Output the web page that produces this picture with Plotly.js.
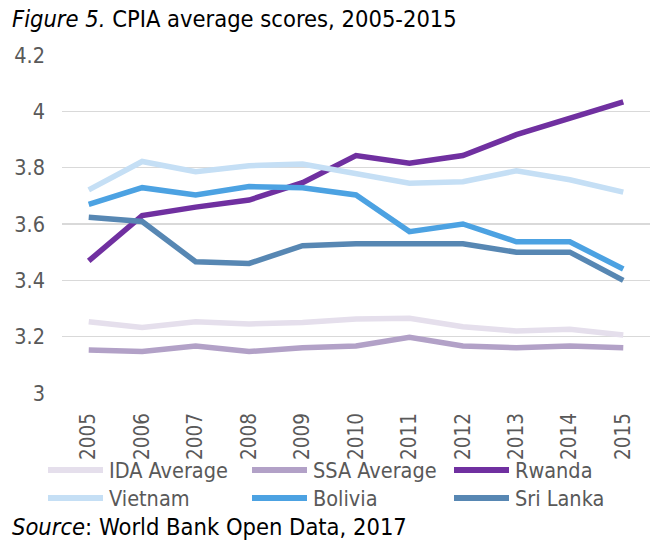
<!DOCTYPE html>
<html>
<head>
<meta charset="utf-8">
<script src="https://cdn.plot.ly/plotly-3.0.1.min.js"></script>
<style>html,body{margin:0;padding:0;background:#fff;}#chart{width:650px;height:544px;}</style>
</head>
<body>
<div id="chart"></div>
<script>
const years = ["2005","2006","2007","2008","2009","2010","2011","2012","2013","2014","2015"];
const seriesNames = ["IDA Average","SSA Average","Rwanda","Vietnam","Bolivia","Sri Lanka"];
const seriesColors = ["#E5DFEC","#B2A1C7","#7030A0","#C5DFF5","#4CA2E2","#5787B3"];
const idaAverage = [3.253,3.233,3.253,3.245,3.250,3.263,3.265,3.235,3.220,3.226,3.206];
const ssaAverage = [3.153,3.147,3.167,3.147,3.161,3.167,3.198,3.167,3.161,3.167,3.161];
const rwanda     = [3.469,3.630,3.660,3.685,3.747,3.843,3.816,3.843,3.917,3.976,4.034];
const vietnam    = [3.721,3.822,3.786,3.807,3.813,3.780,3.745,3.750,3.789,3.757,3.713];
const bolivia    = [3.670,3.729,3.703,3.733,3.729,3.703,3.573,3.600,3.537,3.537,3.440];
const sriLanka   = [3.624,3.609,3.466,3.460,3.523,3.530,3.530,3.530,3.500,3.500,3.400];
const seriesValues = [idaAverage, ssaAverage, rwanda, vietnam, bolivia, sriLanka];
const yTicks = [3, 3.2, 3.4, 3.6, 3.8, 4, 4.2];

const FONT = "'DejaVu Sans Condensed', 'DejaVu Sans', sans-serif";
const W = 650, H = 544;
const m = {l: 62, r: 0, t: 55, b: 151};
const pw = W - m.l - m.r, ph = H - m.t - m.b;
const px = x => (x - m.l) / pw;
const py = y => (H - m.b - y) / ph;

const traces = seriesNames.map((name, i) => ({
  x: years, y: seriesValues[i], name: name, type: 'scatter', mode: 'lines',
  line: {color: seriesColors[i], width: 5.5, shape: 'linear'},
  showlegend: false, hoverinfo: 'x+y+name'
}));

// custom legend: 3 columns x 2 rows
const colX = [48, 252, 454];
const rowY = [470, 498];
const shapes = [], annotations = [];
seriesNames.forEach((name, i) => {
  const c = i % 3, r = Math.floor(i / 3);
  shapes.push({type: 'line', xref: 'paper', yref: 'paper',
    x0: px(colX[c]), x1: px(colX[c] + 55), y0: py(rowY[r]), y1: py(rowY[r]),
    line: {color: seriesColors[i], width: 6}});
  annotations.push({xref: 'paper', yref: 'paper', x: px(colX[c] + 59), y: py(rowY[r]),
    xanchor: 'left', yanchor: 'middle', showarrow: false, text: name,
    font: {family: FONT, size: 21.5, color: '#595959'}});
});
annotations.push({xref: 'paper', yref: 'paper', x: px(10), y: py(19), xanchor: 'left', yanchor: 'middle',
  showarrow: false, text: '<i>Figure 5.</i> CPIA average scores, 2005-2015',
  font: {family: FONT, size: 23.5, color: '#000'}});
annotations.push({xref: 'paper', yref: 'paper', x: px(10), y: py(527), xanchor: 'left', yanchor: 'middle',
  showarrow: false, text: '<i>Source</i>: World Bank Open Data, 2017',
  font: {family: FONT, size: 23.5, color: '#000'}});

const layout = {
  width: W, height: H, margin: m,
  paper_bgcolor: '#fff', plot_bgcolor: '#fff',
  font: {family: FONT, size: 21, color: '#595959'},
  showlegend: false,
  xaxis: {type: 'category', categoryarray: years, range: [-0.5, years.length - 0.5],
    tickangle: -90, showgrid: false,
    showline: false, ticks: '', ticklabelstandoff: 15, zeroline: false,
    tickfont: {family: FONT, size: 20.5, color: '#595959'}, fixedrange: true},
  yaxis: {range: [3, 4.2], tickvals: yTicks, showgrid: true, gridcolor: '#D9D9D9', gridwidth: 1.5,
    zeroline: false, showline: false, ticks: '', ticklabelstandoff: 16,
    tickfont: {family: FONT, size: 21.5, color: '#595959'}, fixedrange: true},
  shapes: shapes, annotations: annotations
};
Plotly.newPlot('chart', traces, layout, {displayModeBar: false, staticPlot: true});
</script>
</body>
</html>
